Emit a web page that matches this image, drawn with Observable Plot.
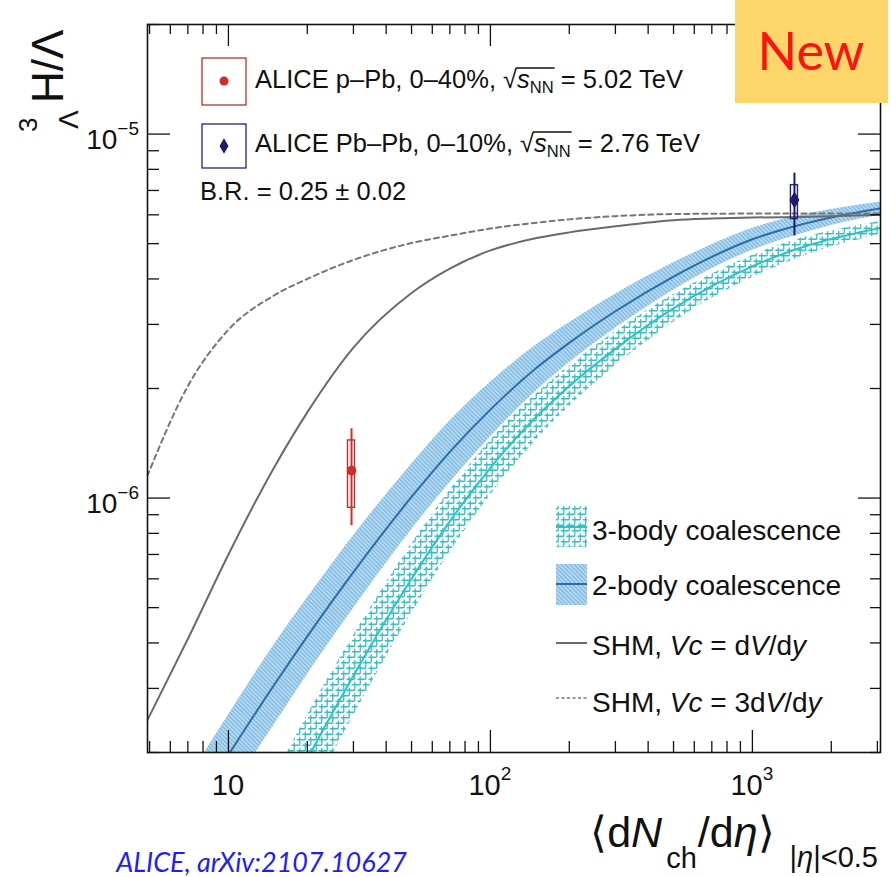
<!DOCTYPE html>
<html><head><meta charset="utf-8">
<script src="https://cdn.jsdelivr.net/npm/d3@7"></script>
<script src="https://cdn.jsdelivr.net/npm/@observablehq/plot@0.6"></script>
<style>
html,body{margin:0;padding:0;background:#fff;}
svg{display:block}
</style></head><body>
<div id="chart"></div>
<script>
// ---- data ----
const xGrid   = [4.9, 7, 10, 15, 20, 30, 50, 70, 100, 150, 200, 300, 500, 700, 1000, 1500, 2000, 3100];
const shmVc1  = [2.45e-7, 4.1e-7, 7.0e-7, 1.22e-6, 1.72e-6, 2.59e-6, 3.66e-6, 4.27e-6, 4.79e-6, 5.18e-6, 5.37e-6, 5.58e-6, 5.8e-6, 5.86e-6, 5.9e-6, 5.92e-6, 5.95e-6, 6.0e-6];
const shmVc3  = [1.15e-6, 2.03e-6, 2.9e-6, 3.61e-6, 4.0e-6, 4.51e-6, 5.02e-6, 5.26e-6, 5.5e-6, 5.71e-6, 5.83e-6, 5.95e-6, 6.03e-6, 6.04e-6, 6.05e-6, 6.05e-6, 6.05e-6, 6.05e-6];
const coal2   = [8.5e-8, 1.31e-7, 1.97e-7, 3.08e-7, 4.17e-7, 6.26e-7, 1.007e-6, 1.34e-6, 1.75e-6, 2.28e-6, 2.67e-6, 3.26e-6, 4.06e-6, 4.6e-6, 5.14e-6, 5.62e-6, 5.9e-6, 6.25e-6];
const coal2Lo = [6.6e-8, 1.017e-7, 1.53e-7, 2.391e-7, 3.273e-7, 4.972e-7, 8.187e-7, 1.102e-6, 1.472e-6, 1.972e-6, 2.352e-6, 2.926e-6, 3.721e-6, 4.263e-6, 4.795e-6, 5.292e-6, 5.608e-6, 5.998e-6];
const coal2Hi = [1.095e-7, 1.687e-7, 2.537e-7, 3.967e-7, 5.313e-7, 7.881e-7, 1.2386e-6, 1.629e-6, 2.081e-6, 2.636e-6, 3.03e-6, 3.632e-6, 4.429e-6, 4.963e-6, 5.51e-6, 5.968e-6, 6.207e-6, 6.513e-6];
const coal3   = [2.5e-8, 4.3e-8, 7.3e-8, 1.3e-7, 1.92e-7, 3.25e-7, 6.0e-7, 8.63e-7, 1.211e-6, 1.675e-6, 2.03e-6, 2.57e-6, 3.32e-6, 3.82e-6, 4.33e-6, 4.85e-6, 5.15e-6, 5.52e-6];
const coal3Lo = [1.897e-8, 3.263e-8, 5.539e-8, 9.863e-8, 1.457e-7, 2.523e-7, 4.819e-7, 7.097e-7, 1.0185e-6, 1.449e-6, 1.789e-6, 2.307e-6, 3.043e-6, 3.54e-6, 4.039e-6, 4.567e-6, 4.895e-6, 5.298e-6];
const coal3Hi = [3.295e-8, 5.667e-8, 9.621e-8, 1.713e-7, 2.531e-7, 4.186e-7, 7.47e-7, 1.0494e-6, 1.4399e-6, 1.936e-6, 2.304e-6, 2.863e-6, 3.622e-6, 4.122e-6, 4.642e-6, 5.151e-6, 5.418e-6, 5.752e-6];

const dataNames  = ["ALICE p–Pb, 0–40%", "ALICE Pb–Pb, 0–10%"];
const dataX      = [29.5, 1447];
const dataY      = [1.19e-6, 6.59e-6];
const dataStatLo = [8.4e-7, 5.25e-6];
const dataStatHi = [1.55e-6, 7.81e-6];
const dataSystLo = [9.4e-7, 5.84e-6];
const dataSystHi = [1.44e-6, 7.24e-6];
const dataColors = ["#d42a2a", "#1b1b6e"];
const dataBoxColors = ["#b83232", "#23237a"];
const dataSymbols = ["circle", "diamond"];

const xMajorTicks = [10, 100, 1000];
const xMinorTicks = [5, 6, 7, 8, 9, 20, 30, 40, 50, 60, 70, 80, 90, 200, 300, 400, 500, 600, 700, 800, 900, 2000, 3000];
const yMajorTicks = [1e-6, 1e-5];
const yMinorTicks = [2e-7, 3e-7, 4e-7, 5e-7, 6e-7, 7e-7, 8e-7, 9e-7, 2e-6, 3e-6, 4e-6, 5e-6, 6e-6, 7e-6, 8e-6, 9e-6, 2e-5];
const xLabelValues = [10, 100, 1000];
const xLabelExps   = ["", "2", "3"];
const yLabelValues = [1e-6, 1e-5];
const yLabelExps   = ["−6", "−5"];

// ---- layout ----
const W = 891, H = 877, mL = 147, mR = 11, mT = 24, mB = 125;
const frameH = H - mT - mB, frameW = W - mL - mR;
const FONT = "Liberation Sans, Arial, Helvetica, sans-serif";

const rows = xGrid.map((x, i) => ({
  x, shm1: shmVc1[i], shm3: shmVc3[i],
  c2: coal2[i], c2lo: coal2Lo[i], c2hi: coal2Hi[i],
  c3: coal3[i], c3lo: coal3Lo[i], c3hi: coal3Hi[i]
}));
const pts = dataX.map((x, i) => ({
  name: dataNames[i], x, y: dataY[i],
  statLo: dataStatLo[i], statHi: dataStatHi[i],
  systLo: dataSystLo[i], systHi: dataSystHi[i]
}));

const pointMarks = pts.flatMap((p, i) => [
  Plot.rect([p], {x1: "x", x2: "x", y1: "systLo", y2: "systHi", insetLeft: -3.5, insetRight: -3.5,
    fill: "none", stroke: dataBoxColors[i], strokeWidth: 1.4}),
  Plot.ruleX([p], {x: "x", y1: "statLo", y2: "statHi", stroke: dataColors[i], strokeWidth: 2}),
  Plot.dot([p], {x: "x", y: "y", r: dataSymbols[i] === "circle" ? 4.8 : 5.2, symbol: dataSymbols[i],
    fill: dataColors[i], stroke: "none"})
]);

const chart = Plot.plot({
  width: W, height: H,
  marginLeft: mL, marginRight: mR, marginTop: mT, marginBottom: mB,
  x: {type: "log", domain: [4.91, 3083], axis: null},
  y: {type: "log", domain: [2e-7, 2e-5], axis: null},
  style: {fontFamily: FONT, background: "white"},
  marks: [
    Plot.areaY(rows, {x: "x", y1: "c2lo", y2: "c2hi", fill: "url(#hatch2)", curve: "monotone-x", clip: true}),
    Plot.areaY(rows, {x: "x", y1: "c3lo", y2: "c3hi", fill: "url(#hatch3)", curve: "monotone-x", clip: true}),
    Plot.line(rows, {x: "x", y: "c2", stroke: "#2b6da6", strokeWidth: 2, curve: "monotone-x", clip: true}),
    Plot.line(rows, {x: "x", y: "c3", stroke: "#2cc1c4", strokeWidth: 2, curve: "monotone-x", clip: true}),
    Plot.line(rows, {x: "x", y: "shm1", stroke: "#6a6a6a", strokeWidth: 2, curve: "monotone-x", clip: true}),
    Plot.line(rows, {x: "x", y: "shm3", stroke: "#767676", strokeWidth: 2, strokeDasharray: "5,4", curve: "monotone-x", clip: true}),
    ...pointMarks,
    Plot.tickX(xMajorTicks, {x: d => d, insetTop: frameH - 22, stroke: "#111", strokeWidth: 1.3}),
    Plot.tickX(xMajorTicks, {x: d => d, insetBottom: frameH - 22, stroke: "#111", strokeWidth: 1.3}),
    Plot.tickX(xMinorTicks, {x: d => d, insetTop: frameH - 11, stroke: "#111", strokeWidth: 1.3}),
    Plot.tickX(xMinorTicks, {x: d => d, insetBottom: frameH - 10, stroke: "#111", strokeWidth: 1.3}),
    Plot.tickY(yMajorTicks, {y: d => d, insetRight: frameW - 23, stroke: "#111", strokeWidth: 1.3}),
    Plot.tickY(yMajorTicks, {y: d => d, insetLeft: frameW - 22, stroke: "#111", strokeWidth: 1.3}),
    Plot.tickY(yMinorTicks, {y: d => d, insetRight: frameW - 12, stroke: "#111", strokeWidth: 1.3}),
    Plot.tickY(yMinorTicks, {y: d => d, insetLeft: frameW - 10, stroke: "#111", strokeWidth: 1.3}),
    Plot.frame({stroke: "#111", strokeWidth: 1.6})
  ]
});
document.getElementById("chart").append(chart);

const svg = d3.select(chart);
const sx = chart.scale("x"), sy = chart.scale("y");

// patterns
const defs = svg.insert("defs", ":first-child");
const p2 = defs.append("pattern").attr("id", "hatch2").attr("patternUnits", "userSpaceOnUse")
  .attr("width", 3).attr("height", 3).attr("patternTransform", "rotate(-45)");
p2.append("rect").attr("width", 3).attr("height", 3).attr("fill", "#bcdef3");
p2.append("line").attr("x1", 0.7).attr("y1", 0).attr("x2", 0.7).attr("y2", 3).attr("stroke", "#72b1dd").attr("stroke-width", 1.2);
const p3 = defs.append("pattern").attr("id", "hatch3").attr("patternUnits", "userSpaceOnUse")
  .attr("width", 11).attr("height", 11);
p3.append("path").attr("d", "M0,2.75H8.25M2.75,0V8.25M5.5,8.25H11M8.25,5.5V11M0,8.25H2.75M8.25,0V2.75")
  .attr("stroke", "#34bfc4").attr("stroke-width", 1.3).attr("fill", "none");

// rich text helper (pieces laid out one after another)
function rich(parent, x, y, parts, opt = {}) {
  const g = parent.append("g").attr("transform", `translate(${x},${y})` + (opt.rotate ? ` rotate(${opt.rotate})` : ""));
  const inner = g.append("g");
  let cx = 0, ox0 = null, ox1 = null;
  for (const p of parts) {
    cx += p.gap || 0;
    const t = inner.append("text").attr("x", cx).attr("y", p.dy || 0)
      .attr("text-anchor", "start")
      .attr("font-size", p.size).attr("font-family", p.font || FONT)
      .attr("font-style", p.italic ? "italic" : null)
      .attr("fill", p.color || "#111").text(p.t);
    const w = t.node().getComputedTextLength();
    if (p.over) { if (ox0 === null) ox0 = cx; ox1 = cx + w; }
    cx += w;
  }
  if (ox0 !== null) inner.append("line").attr("x1", ox0 - 1).attr("x2", ox1 + 1)
      .attr("y1", opt.overY).attr("y2", opt.overY).attr("stroke", "#111").attr("stroke-width", 1.3);
  if (opt.anchor === "middle") inner.attr("transform", `translate(${-cx / 2},0)`);
  if (opt.anchor === "end") inner.attr("transform", `translate(${-cx},0)`);
  return g;
}

// tick labels
xLabelValues.forEach((v, i) => {
  const parts = [{t: "10", size: 29}];
  if (xLabelExps[i]) parts.push({t: xLabelExps[i], size: 19, dy: -15});
  rich(svg, sx.apply(v), 795, parts, {anchor: "middle"});
});
yLabelValues.forEach((v, i) => {
  rich(svg, 139, sy.apply(v), [{t: "10", size: 28, dy: 15}, {t: yLabelExps[i], size: 19, dy: 1}], {anchor: "end"});
});

// axis titles
rich(svg, 878, 847, [
  {t: "⟨", size: 43}, {t: "d", size: 43}, {t: "N", size: 43, italic: true},
  {t: "ch", size: 29, dy: 21, gap: 4}, {t: "/", size: 43, gap: 1}, {t: "d", size: 43},
  {t: "η", size: 43, italic: true}, {t: "⟩", size: 43},
  {t: "|", size: 29, dy: 20, gap: 15}, {t: "η", size: 29, dy: 20, italic: true}, {t: "|<0.5", size: 29, dy: 20}
], {anchor: "end"});

const yl = svg.append("g").attr("transform", "translate(63,132) rotate(-90)").attr("font-family", FONT).attr("fill", "#111");
yl.append("text").attr("text-anchor", "start").attr("x", 0).attr("y", -26).attr("font-size", 26).text("3");
yl.append("text").attr("text-anchor", "start").attr("x", 3).attr("y", 15).attr("font-size", 28).text("Λ");
yl.append("text").attr("text-anchor", "start").attr("x", 29).attr("y", 0).attr("font-size", 44).text("H/Λ");

// top-left legend
svg.append("rect").attr("x", 202).attr("y", 58).attr("width", 44).attr("height", 47)
  .attr("fill", "none").attr("stroke", dataBoxColors[0]).attr("stroke-width", 1.3);
svg.append("circle").attr("cx", 224).attr("cy", 81).attr("r", 4.5).attr("fill", dataColors[0]);
svg.append("rect").attr("x", 202).attr("y", 124).attr("width", 44).attr("height", 44)
  .attr("fill", "none").attr("stroke", dataBoxColors[1]).attr("stroke-width", 1.3);
svg.append("path").attr("transform", "translate(224,146)").attr("d", d3.symbol(d3.symbolDiamond, 70)()).attr("fill", dataColors[1]);

rich(svg, 255, 88, [
  {t: dataNames[0] + ", ", size: 25.5}, {t: "√", size: 25.5},
  {t: "s", size: 25.5, italic: true, over: true}, {t: "NN", size: 16.5, dy: 5, over: true},
  {t: " = 5.02 TeV", size: 25.5}
], {overY: -20});
rich(svg, 255, 152, [
  {t: dataNames[1] + ", ", size: 25.5}, {t: "√", size: 25.5},
  {t: "s", size: 25.5, italic: true, over: true}, {t: "NN", size: 16.5, dy: 5, over: true},
  {t: " = 2.76 TeV", size: 25.5}
], {overY: -20});
rich(svg, 200, 200, [{t: "B.R. = 0.25 ± 0.02", size: 25.5}]);

// bottom-right legend
svg.append("rect").attr("x", 556).attr("y", 506).attr("width", 31).attr("height", 41).attr("fill", "url(#hatch3)");
svg.append("line").attr("x1", 556).attr("x2", 587).attr("y1", 527).attr("y2", 527).attr("stroke", "#2cc1c4").attr("stroke-width", 2);
svg.append("rect").attr("x", 556).attr("y", 564).attr("width", 31).attr("height", 41).attr("fill", "url(#hatch2)");
svg.append("line").attr("x1", 556).attr("x2", 587).attr("y1", 584).attr("y2", 584).attr("stroke", "#2b6da6").attr("stroke-width", 2);
svg.append("line").attr("x1", 556).attr("x2", 587).attr("y1", 643).attr("y2", 643).attr("stroke", "#6a6a6a").attr("stroke-width", 2);
svg.append("line").attr("x1", 556).attr("x2", 587).attr("y1", 698).attr("y2", 698).attr("stroke", "#767676").attr("stroke-width", 1.6).attr("stroke-dasharray", "3,2.5");

rich(svg, 592, 540, [{t: "3-body coalescence", size: 28}]);
rich(svg, 592, 595, [{t: "2-body coalescence", size: 28}]);
rich(svg, 592, 655, [{t: "SHM, ", size: 28}, {t: "Vc", size: 28, italic: true}, {t: " = d", size: 28},
  {t: "V", size: 28, italic: true}, {t: "/d", size: 28}, {t: "y", size: 28, italic: true}]);
rich(svg, 592, 712, [{t: "SHM, ", size: 28}, {t: "Vc", size: 28, italic: true}, {t: " = 3d", size: 28},
  {t: "V", size: 28, italic: true}, {t: "/d", size: 28}, {t: "y", size: 28, italic: true}]);

// "New" badge
svg.append("rect").attr("x", 735).attr("y", 0).attr("width", 153).attr("height", 103).attr("fill", "#fdd66b");
svg.append("text").attr("x", 811).attr("y", 70).attr("text-anchor", "middle").attr("font-family", "Lato, sans-serif")
  .attr("font-size", 52).attr("fill", "#ff1111").text("New");

// caption
svg.append("text").attr("x", 407).attr("y", 872).attr("text-anchor", "end").attr("font-family", "Lato, sans-serif")
  .attr("font-style", "italic").attr("font-size", 27).attr("fill", "#1f1ff5").text("ALICE, arXiv:2107.10627");
</script>
</body></html>
